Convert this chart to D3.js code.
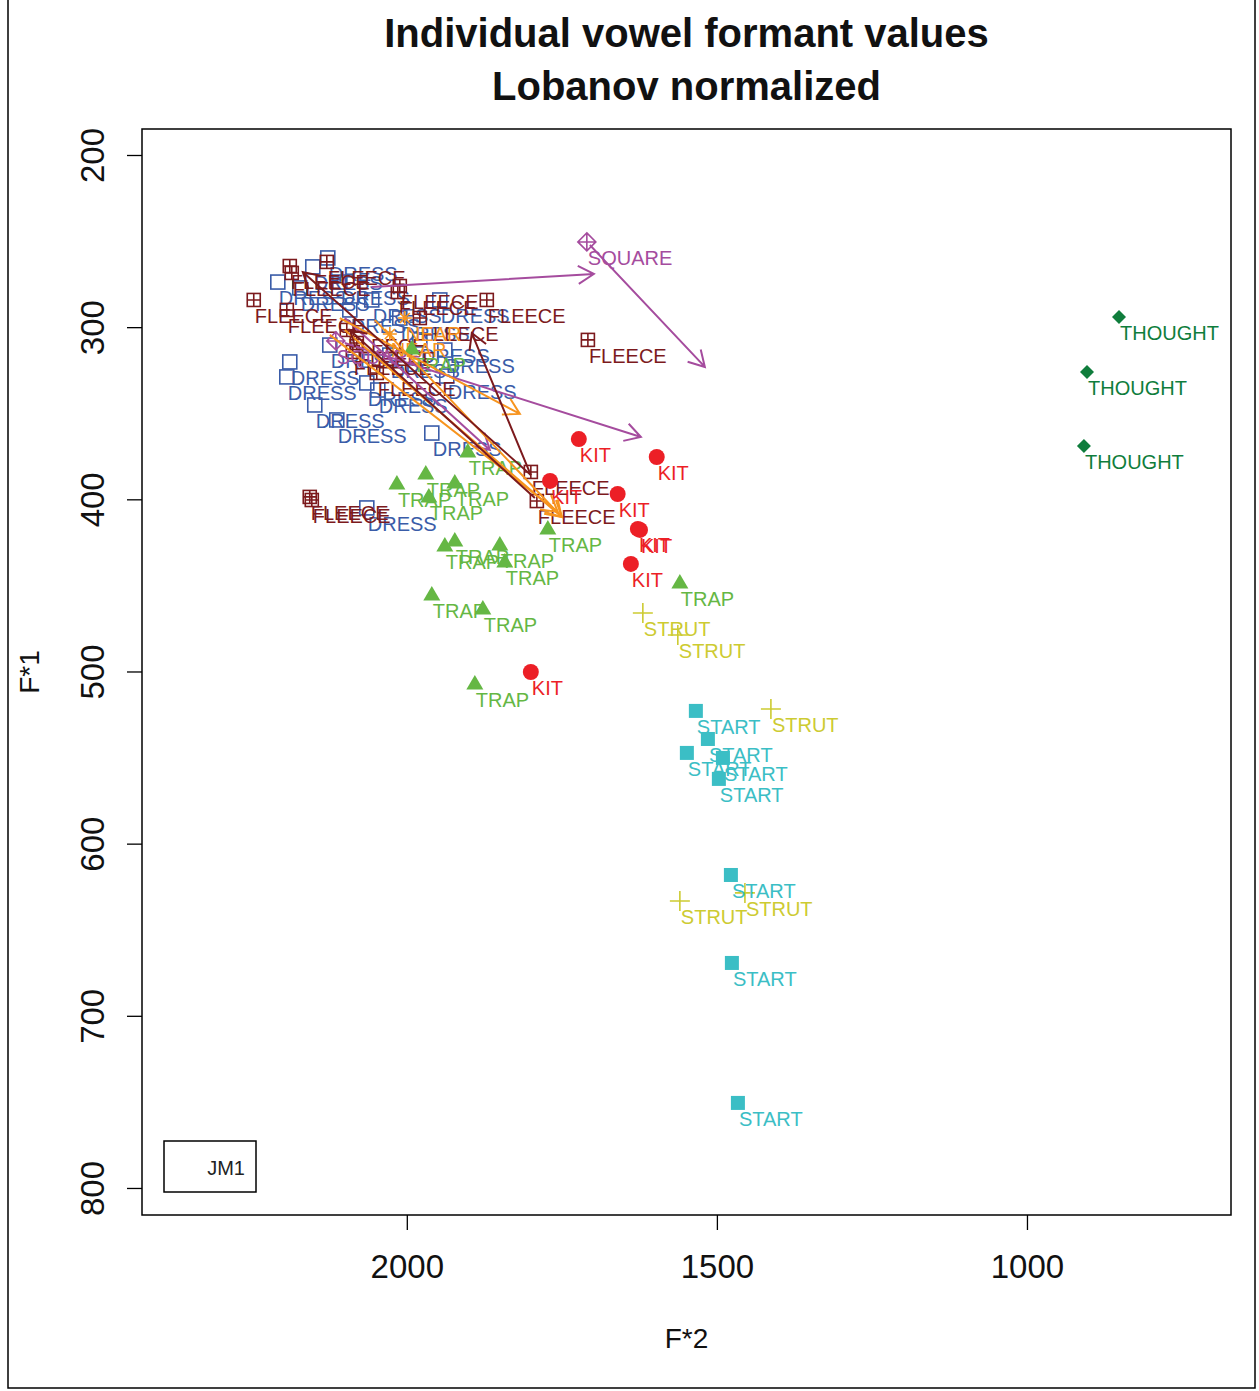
<!DOCTYPE html>
<html><head><meta charset="utf-8">
<script src="https://cdn.jsdelivr.net/npm/d3@7"></script>
<style>body{margin:0;background:#fff} svg{display:block} text{font-family:"Liberation Sans",Arial,Helvetica,sans-serif}</style>
</head><body><svg id="c" width="1259" height="1391"></svg>
<script>
// ---- data (F*2, F*1) per vowel ----
const vowels = ["DRESS","FLEECE","NEAR","SQUARE","TRAP","KIT","STRUT","START","THOUGHT"];
const vowelColors = ["#3A5CA8","#7C1A1D","#F7941E","#A54C9E","#65B744","#EC1F26","#CDCB32","#3BBEC5","#0F7D3C"];
const vowelShapes = ["square","sqplus","asterisk","diamondplus","triangle","circle","plus","fsquare","diamond"];

const dressF2 = [2127.4,2151.6,2208,2172.6,2108,2188.7,2193.5,2148.4,2112.9,1959.7,2064.5,2091.9,2056.5,2011.3,1979,1938.7,2124.2,2027.4,2064.5,1946.8,1935.5,2046.8];
const dressF1 = [259.8,265,273.8,277.2,273.8,320.2,328.9,345.2,353.9,361.5,405,290,284.2,294.7,307.4,313.3,310.4,316.2,332.4,284.2,328.4,336.5];
const fleeceF2 = [2188.7,2185.5,2129,2246.8,2193.5,2011.3,2014.5,1871,2096.8,2080.6,2087.1,2048.4,1708,2156.5,2153.2,1800,1790.3,1979];
const fleeceF1 = [264.5,268.5,262.1,284.2,290,276.1,279.6,284.2,301.6,309.2,314.4,326.6,307.4,398.6,400.4,384.1,401,294.7];
const nearF2 = [2003.2,2027.4];
const nearF1 = [294.7,304];
const squareF2 = [1709.7,2114.5];
const squareF1 = [250.5,308];
const trapF2 = [1901.6,2016,1969.4,1922.6,1964.5,1772.6,1938.7,1922.6,1850,1842,1959.7,1877.4,1559.7,1890.3,1991.9];
const trapF1 = [372.5,391.1,385.3,390.5,398.6,417.2,427.1,424.2,426.5,436.4,455.6,463.7,448.6,507.2,312.7];
const kitF2 = [1722.6,1597,1769,1660,1627.4,1624,1638.7,1800];
const kitF1 = [365,375.4,389.3,396.9,417.2,417.8,437.5,500.3];
const strutF2 = [1619.4,1563,1412.9,1559.7,1454.8];
const strutF1 = [466,478.8,521.8,633.3,628.6];
const startF2 = [1533.9,1514.5,1548.4,1490.3,1496.8,1477.4,1475.8,1466.1];
const startF1 = [522.9,539.2,547.3,550.2,562.4,618.2,669.3,750.6];
const thoughtF2 = [851.6,903.2,908.1];
const thoughtF1 = [294.1,326,369];

const vowelF2 = [dressF2,fleeceF2,nearF2,squareF2,trapF2,kitF2,strutF2,startF2,thoughtF2];
const vowelF1 = [dressF1,fleeceF1,nearF1,squareF1,trapF1,kitF1,strutF1,startF1,thoughtF1];

// trajectories (arrows)
const arrowVowel = ["SQUARE","SQUARE","SQUARE","SQUARE","NEAR","NEAR","NEAR","NEAR","FLEECE","FLEECE","FLEECE"];
const arrowF2from = [2056.5,1704.8,2100,2100,2108,2100,2051.6,2124.2,1800,1800,1793.5];
const arrowF1from = [276.7,252.3,309.2,294.7,294.7,301.6,295.8,304.5,385.9,385.9,399.2];
const arrowF2to = [1698.4,1519.4,1622.6,1866.1,1817.7,1750,1750,1756.5,2167.7,1895.2,2091.9];
const arrowF1to = [269.1,323.1,363.8,371.3,350.4,410.3,410.3,407.3,268,303.4,301.6];

const xTicks = [2000,1500,1000];
const yTicks = [200,300,400,500,600,700,800];
const titleLines = ["Individual vowel formant values","Lobanov normalized"];
const legendLabel = "JM1";

// ---- layout ----
const svg = d3.select("#c");
const L=142,R=1231,T=129,B=1215;
const x = d3.scaleLinear().domain([2427,671]).range([L,R]);
const y = d3.scaleLinear().domain([184.9,815.7]).range([T,B]);

// outer frame
svg.append("rect").attr("x",8).attr("y",-2).attr("width",1247).attr("height",1390)
  .attr("fill","none").attr("stroke","#000").attr("stroke-width",1.5);

// title
svg.selectAll("text.title").data(titleLines).join("text").attr("class","title")
  .attr("x",(L+R)/2).attr("y",(d,i)=>47+i*53).attr("text-anchor","middle")
  .attr("font-weight","bold").attr("font-size",40).attr("fill","#111").text(d=>d);

// axes
const gx = svg.append("g").attr("transform",`translate(0,${B})`)
  .call(d3.axisBottom(x).tickValues(xTicks).tickSize(15).tickPadding(25).tickFormat(d3.format("d")));
gx.select(".domain").remove();
gx.selectAll("line").attr("stroke","#000").attr("stroke-width",1.3);
gx.selectAll("text").attr("font-size",33).attr("fill","#111").attr("font-family","Liberation Sans, Arial, sans-serif");

const gy = svg.append("g").attr("transform",`translate(${L},0)`)
  .call(d3.axisLeft(y).tickValues(yTicks).tickSize(15).tickFormat(d3.format("d")));
gy.select(".domain").remove();
gy.selectAll("line").attr("stroke","#000").attr("stroke-width",1.3);
gy.selectAll("text").attr("font-size",33).attr("fill","#111").attr("font-family","Liberation Sans, Arial, sans-serif")
  .attr("transform","rotate(-90)").attr("x",0).attr("y",-50).attr("dy",null)
  .attr("text-anchor","middle").attr("dominant-baseline","central");

// axis titles
svg.append("text").attr("x",(L+R)/2).attr("y",1348).attr("text-anchor","middle")
  .attr("font-size",28).attr("fill","#111").text("F*2");
svg.append("text").attr("transform",`translate(39,${(T+B)/2}) rotate(-90)`).attr("text-anchor","middle")
  .attr("font-size",28).attr("fill","#111").text("F*1");

// plot box
svg.append("rect").attr("x",L).attr("y",T).attr("width",R-L).attr("height",B-T)
  .attr("fill","none").attr("stroke","#000").attr("stroke-width",1.5);

// markers
function marker(g, shape, cx, cy, col){
  const sw=1.6;
  switch(shape){
    case "square": g.append("rect").attr("x",cx-7).attr("y",cy-7).attr("width",14).attr("height",14)
      .attr("fill","none").attr("stroke",col).attr("stroke-width",sw); break;
    case "sqplus": g.append("rect").attr("x",cx-6.5).attr("y",cy-6.5).attr("width",13).attr("height",13)
      .attr("fill","none").attr("stroke",col).attr("stroke-width",sw);
      g.append("path").attr("d",`M${cx-6.5},${cy}H${cx+6.5}M${cx},${cy-6.5}V${cy+6.5}`).attr("stroke",col).attr("stroke-width",sw); break;
    case "circle": g.append("circle").attr("cx",cx).attr("cy",cy).attr("r",8).attr("fill",col); break;
    case "triangle": g.append("path").attr("d",`M${cx},${cy-9}L${cx+8.5},${cy+5.5}L${cx-8.5},${cy+5.5}Z`).attr("fill",col); break;
    case "plus": g.append("path").attr("d",`M${cx-10},${cy}H${cx+10}M${cx},${cy-10}V${cy+10}`).attr("stroke",col).attr("stroke-width",sw); break;
    case "fsquare": g.append("rect").attr("x",cx-7).attr("y",cy-7).attr("width",14).attr("height",14).attr("fill",col); break;
    case "diamond": g.append("path").attr("d",`M${cx},${cy-7}L${cx+7},${cy}L${cx},${cy+7}L${cx-7},${cy}Z`).attr("fill",col); break;
    case "diamondplus": g.append("path").attr("d",`M${cx},${cy-9}L${cx+9},${cy}L${cx},${cy+9}L${cx-9},${cy}Z M${cx-9},${cy}H${cx+9}M${cx},${cy-9}V${cy+9}`)
      .attr("fill","none").attr("stroke",col).attr("stroke-width",sw); break;
    case "asterisk": g.append("path").attr("d",`M${cx-7},${cy}H${cx+7}M${cx},${cy-7}V${cy+7}M${cx-5},${cy-5}L${cx+5},${cy+5}M${cx-5},${cy+5}L${cx+5},${cy-5}`)
      .attr("stroke",col).attr("stroke-width",sw); break;
  }
}

const gp = svg.append("g");
vowels.forEach((v,i)=>{
  const col=vowelColors[i], sh=vowelShapes[i];
  vowelF2[i].forEach((f2,j)=>{
    const cx=x(f2), cy=y(vowelF1[i][j]);
    marker(gp, sh, cx, cy, col);
    gp.append("text").attr("x",cx+1).attr("y",cy+23).attr("font-size",20).attr("fill",col).text(v);
  });
});

// arrows
const ga = svg.append("g");
arrowVowel.forEach((v,k)=>{
  const col = vowelColors[vowels.indexOf(v)];
  const x0=x(arrowF2from[k]), y0=y(arrowF1from[k]), x1=x(arrowF2to[k]), y1=y(arrowF1to[k]);
  const a=Math.atan2(y1-y0,x1-x0), h=18, w=Math.PI/6;
  const p=`M${x0},${y0}L${x1},${y1}M${x1-h*Math.cos(a-w)},${y1-h*Math.sin(a-w)}L${x1},${y1}L${x1-h*Math.cos(a+w)},${y1-h*Math.sin(a+w)}`;
  ga.append("path").attr("d",p).attr("fill","none").attr("stroke",col).attr("stroke-width",2);
});

// legend
svg.append("rect").attr("x",164).attr("y",1141).attr("width",92).attr("height",51)
  .attr("fill","#fff").attr("stroke","#000").attr("stroke-width",1.5);
svg.append("text").attr("x",245).attr("y",1175).attr("text-anchor","end").attr("font-size",20).attr("fill","#222").text(legendLabel);
</script></body></html>
